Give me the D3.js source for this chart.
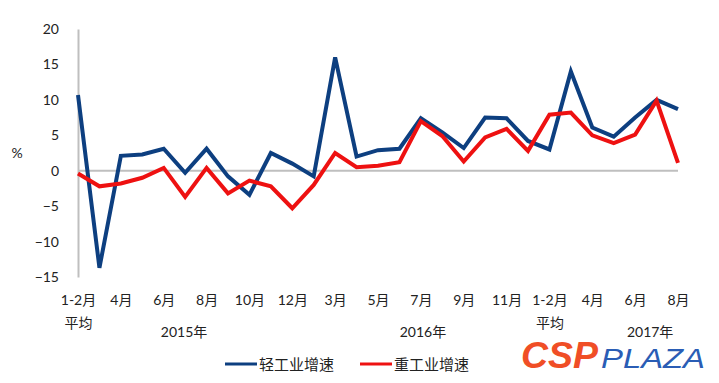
<!DOCTYPE html>
<html><head><meta charset="utf-8">
<script src="https://cdn.jsdelivr.net/npm/d3@7"></script>
<style>
html,body{margin:0;padding:0;background:#fff;}
svg{display:block;}
</style></head>
<body>
<svg id="chart" width="719" height="383"></svg>
<script>
// ---- data ----
const categories = ["1-2月平均","3月","4月","5月","6月","7月","8月","9月","10月","11月","12月",
  "1-2月平均","3月","4月","5月","6月","7月","8月","9月","10月","11月","12月",
  "1-2月平均","3月","4月","5月","6月","7月","8月"];
const lightIndustry = [10.7,-13.7,2.1,2.3,3.1,-0.3,3.1,-0.8,-3.4,2.5,1.0,
  -0.8,16.0,2.0,2.9,3.1,7.4,5.4,3.2,7.5,7.4,
  4.2,3.0,14.0,6.1,4.8,7.5,10.0,8.7];
const heavyIndustry = [-0.4,-2.2,-1.8,-1.0,0.4,-3.7,0.4,-3.2,-1.4,-2.2,-5.3,
  -2.0,2.5,0.5,0.7,1.2,7.0,4.9,1.3,4.7,5.9,
  2.8,7.9,8.2,5.0,3.9,5.1,9.9,1.1];
const yTicks = [20,15,10,5,0,-5,-10,-15];
const years = ["2015年","2016年","2017年"];
const yearPos = [4.95,16.1,26.7];
const seriesNames = ["轻工业增速","重工业增速"];
const colors = ["#0d3f80","#ee1111"];

// ---- drawing ----
const svg = d3.select("#chart");
const idx = d3.range(categories.length);
const x = d3.scalePoint().domain(idx).range([78,678]);
const xl = d3.scaleLinear().domain([0,categories.length-1]).range([78,678]);
const y = d3.scaleLinear().domain([-15,20]).range([277,29]);

const latin = "Lato, 'Noto Sans CJK SC', sans-serif";
const cjk = "'Noto Sans CJK SC', sans-serif";

// y axis
const yAxis = d3.axisLeft(y).tickValues(yTicks).tickSize(0).tickPadding(19);
const gy = svg.append("g").attr("transform","translate(78,0)").call(yAxis);
gy.select(".domain").attr("stroke","#bfbfbf").attr("stroke-width",2);
gy.selectAll("text").attr("font-family",latin).attr("font-size",14).attr("fill","#222");

svg.append("text").attr("x",17).attr("y",158).attr("text-anchor","middle")
  .attr("font-family",latin).attr("font-size",14).attr("fill","#222").text("%");

// zero line
svg.append("line").attr("x1",78).attr("x2",678).attr("y1",y(0)).attr("y2",y(0))
  .attr("stroke","#bfbfbf").attr("stroke-width",2);

// x labels (every other category)
const xAxis = d3.axisBottom(x).tickValues(idx.filter(i=>i%2===0)).tickSize(0).tickFormat(()=>"" );
const gx = svg.append("g").attr("transform","translate(0,292)").call(xAxis);
gx.select(".domain").remove();
gx.selectAll(".tick").each(function(i){
  const t = d3.select(this).select("text").text(null)
    .attr("font-family",latin).attr("font-size",14).attr("fill","#222").attr("y",0).attr("dy",null);
  const lab = categories[i];
  if (lab.endsWith("平均")) {
    t.append("tspan").attr("x",0).attr("y",13).text(lab.replace("平均",""));
    t.append("tspan").attr("x",0).attr("y",36).text("平均");
  } else {
    t.append("tspan").attr("x",0).attr("y",13).text(lab);
  }
});

// year labels
svg.selectAll(".year").data(years).join("text").attr("class","year")
  .attr("x",(d,i)=>xl(yearPos[i])).attr("y",337).attr("text-anchor","middle")
  .attr("font-family",latin).attr("font-size",14).attr("fill","#222").text(d=>d);

// lines
const line = d3.line().x((d,i)=>x(i)).y(d=>y(d)).curve(d3.curveLinear);
[lightIndustry, heavyIndustry].forEach((s,k)=>{
  svg.append("path").datum(s).attr("d",line).attr("fill","none")
    .attr("stroke",colors[k]).attr("stroke-width",4).attr("stroke-linejoin","miter");
});
// draw blue on top where needed? keep order red over blue as in reference
svg.selectAll("path").filter(function(){return d3.select(this).attr("stroke")===colors[1];}).raise();

// legend
const legX = [225,360];
seriesNames.forEach((n,k)=>{
  svg.append("line").attr("x1",legX[k]).attr("x2",legX[k]+32).attr("y1",364).attr("y2",364)
    .attr("stroke",colors[k]).attr("stroke-width",3);
  svg.append("text").attr("x",legX[k]+34).attr("y",370).attr("font-family",cjk)
    .attr("font-size",15).attr("fill","#222").text(n);
});

// logo
svg.append("text").attr("x",521).attr("y",368).attr("font-family","'Liberation Sans', Arial, sans-serif")
  .attr("font-weight","bold").attr("font-style","italic").attr("font-size",36)
  .attr("textLength",77).attr("lengthAdjust","spacingAndGlyphs")
  .attr("fill","#f04e26").text("CSP");
svg.append("text").attr("x",601).attr("y",368).attr("font-family","'Liberation Sans', Arial, sans-serif")
  .attr("font-style","italic").attr("font-size",27)
  .attr("textLength",104).attr("lengthAdjust","spacingAndGlyphs")
  .attr("fill","#2a5db5").text("PLAZA");
</script>
</body></html>
